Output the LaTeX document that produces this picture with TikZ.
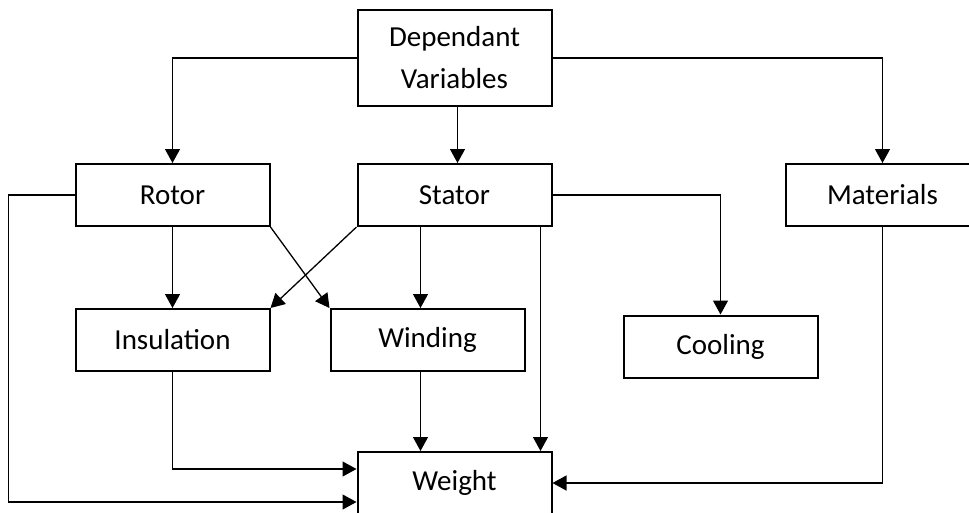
\documentclass[tikz,border=0pt]{standalone}
\usepackage{fontspec}
\setmainfont{Carlito}
\usetikzlibrary{positioning,arrows.meta}

\begin{document}
\begin{tikzpicture}[x=1pt, y=-1pt,
  font=\fontsize{29}{42}\selectfont, >={Triangle[length=14pt,width=15pt]},
  box/.style={draw, line width=2pt, minimum width=194pt, minimum height=62pt,
              align=center, inner sep=2pt},
  link/.style={->, line width=1.3pt}]
\useasboundingbox (0,0) rectangle (969,512);

\node (dep) [box, minimum height=96pt] at (454.5,58) {Dependant\\Variables};

\node (stator) [box, below=56pt of dep] {Stator};
\node (rotor) [box, left=86pt of stator] {Rotor};
\node (materials) [box, right=232pt of stator] {Materials};

\node (insul) [box, below=81pt of rotor] {Insulation};
\node (winding) [box, right=59pt of insul] {Winding};
\node (cooling) [box, right=97pt of winding, yshift=-6.5pt] {Cooling};

\node (weight) [box, below=224pt of stator] {Weight};

\coordinate (wtop) at ([xshift=-7pt]winding.north);
\coordinate (wbot) at ([xshift=-7pt]winding.south);
\coordinate (sbot) at ([xshift=-12pt]stator.south east);

\draw[link] (dep) -| (rotor);  \draw[link] (dep) -| (materials);
\draw[link] ([xshift=3pt]dep.south) -- ([xshift=3pt]stator.north);
\draw[link] (rotor) -- (insul);
\draw[link] (rotor.south east) -- (winding.north west);
\draw[link] (stator.south west) -- (insul.north east);
\draw[link] (wtop |- stator.south) -- (wtop);
\draw[link] (stator) -| (cooling);
\draw[link] (sbot) -- (sbot |- weight.north);
\draw[link] (wbot) -- (wbot |- weight.north);
\draw[link] (insul) |- ([yshift=14pt]weight.west);
\draw[link] (rotor.west) -- ++(-66,0) |- ([yshift=-19pt]weight.west);
\draw[link] (materials) |- (weight);
\end{tikzpicture}
\end{document}
